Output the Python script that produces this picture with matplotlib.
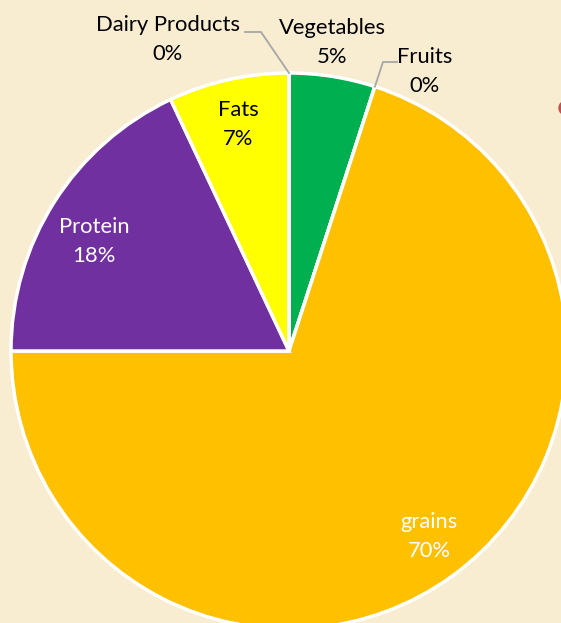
import matplotlib.pyplot as plt
from matplotlib.patches import Circle
import numpy as np

labels = ["Vegetables", "Fruits", "grains", "Protein", "Fats", "Dairy Products"]
values = [5, 0, 70, 18, 7, 0]
colors = ["#00B050", "#4472C4", "#FFC000", "#7030A0", "#FFFF00", "#A5A5A5"]

W, H = 561, 623
BG = "#F8ECD1"
cx, cy, r = 289, H - 351, 278

fig = plt.figure(figsize=(W / 100, H / 100), dpi=100, facecolor=BG)
ax = fig.add_axes([0, 0, 1, 1])
ax.set_facecolor(BG)

ax.pie(values, colors=colors, startangle=90, counterclock=False,
       center=(cx, cy), radius=r, frame=True,
       wedgeprops=dict(edgecolor="white", linewidth=2.5))
ax.set_xlim(0, W)
ax.set_ylim(0, H)
ax.axis("off")

plt.rcParams["font.family"] = ["Lato", "DejaVu Sans"]

# label positions in pixels (name line, pct line)
pos = {
    "Vegetables": (332, 28, "black"),
    "Fruits": (425, 57, "black"),
    "grains": (429, 522, "white"),
    "Protein": (94, 227, "white"),
    "Fats": (238, 110, "black"),
    "Dairy Products": (168, 25, "black"),
}
for name, v in zip(labels, values):
    x, y, c = pos[name]
    ax.text(x, H - y, name, ha="center", va="center", fontsize=15.8, color=c)
    ax.text(x, H - y - 29, f"{v}%", ha="center", va="center", fontsize=15.8, color=c)

# leader lines for the zero slices
total = sum(values)
cum = np.cumsum([0] + values)
def edge_point(frac):
    a = np.deg2rad(90 - 360 * frac)
    return cx + r * np.cos(a), cy + r * np.sin(a)

ex, ey = edge_point(cum[1] / total)
ax.plot([397, 383, ex], [H - 62, H - 62, ey], color="#A6A6A6", lw=1.3, zorder=5)
ex, ey = edge_point(cum[5] / total)
ax.plot([245, 261, ex], [H - 32, H - 32, ey], color="#A6A6A6", lw=1.3, zorder=5)

ax.add_patch(Circle((566, H - 108), 7, color="#C0504D", zorder=5))

fig.savefig("out.png", dpi=100, facecolor=BG)
